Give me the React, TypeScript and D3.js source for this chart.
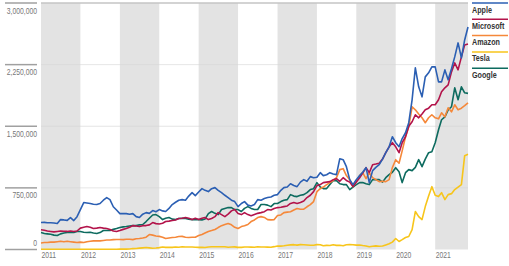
import React, { useEffect, useRef } from 'react';
import * as d3 from 'd3';

// market cap, in thousands of the axis unit (axis shows value * 1000)
const companies = ['Apple', 'Microsoft', 'Amazon', 'Tesla', 'Google'];
const colors = ['#2b5fb3', '#b3134a', '#f5883a', '#f7c51b', '#0d6b5f'];

const apple = [
    328, 330, 326, 325, 322, 316, 364, 360, 355, 389, 352, 400,
    486, 571, 565, 559, 550, 547, 560, 600, 632, 607, 520, 480,
    437, 437, 437, 430, 437, 400, 389, 430, 449, 440, 474, 460,
    486, 470, 462, 500, 547, 575, 600, 607, 600, 650, 692, 656,
    700, 741, 720, 705, 740, 753, 720, 692, 660, 632, 600, 583,
    522, 560, 583, 540, 530, 547, 607, 600, 620, 632, 640, 660,
    668, 720, 753, 760, 800, 780, 765, 820, 850, 830, 887, 874,
    880, 935, 899, 910, 935, 920, 911, 1105, 1093, 1008, 850, 790,
    850, 899, 940, 996, 814, 960, 1000, 1032, 1100, 1178, 1250, 1372,
    1300, 1251, 1350, 1421, 1543, 1822, 2210, 1980, 1858, 2101, 2150, 2223,
    2223, 2040, 2040, 2186, 2065, 2200, 2344, 2514, 2332, 2550, 2708
];
const microsoft = [
    240, 235, 225, 220, 215, 220, 225, 222, 220, 225, 219, 225,
    260, 270, 279, 270, 255, 260, 267, 260, 255, 243, 225, 219,
    231, 245, 255, 270, 291, 285, 279, 290, 291, 300, 328, 315,
    310, 320, 340, 345, 352, 360, 377, 380, 389, 380, 364, 380,
    364, 380, 389, 364, 377, 400, 449, 425, 400, 430, 470, 486,
    437, 425, 449, 425, 410, 425, 440, 449, 460, 486, 480, 500,
    510, 515, 522, 530, 560, 571, 560, 571, 590, 632, 660, 704,
    777, 790, 814, 820, 826, 850, 862, 830, 874, 840, 820, 765,
    820, 874, 930, 996, 935, 1032, 1040, 1050, 1100, 1178, 1250, 1300,
    1250, 1178, 1300, 1372, 1500, 1555, 1640, 1603, 1650, 1700, 1720, 1761,
    1761, 1822, 1919, 1968, 2004, 2162, 2271, 2186, 2344, 2490, 2502
];
const amazon = [
    80, 85, 85, 90, 90, 95, 100, 95, 100, 95, 90, 85,
    90, 85, 95, 100, 105, 105, 105, 110, 115, 115, 120, 121,
    121, 120, 125, 125, 120, 130, 134, 140, 150, 182, 175, 165,
    160, 150, 134, 140, 146, 150, 158, 160, 150, 146, 150, 150,
    170, 182, 200, 219, 230, 243, 267, 290, 304, 316, 300, 270,
    255, 279, 290, 304, 340, 360, 389, 400, 390, 364, 360, 364,
    413, 420, 449, 455, 460, 480, 498, 490, 490, 520, 547, 583,
    704, 740, 760, 790, 814, 840, 874, 972, 984, 900, 850, 765,
    826, 900, 935, 862, 935, 874, 850, 826, 830, 826, 850, 996,
    1093, 1050, 1200, 1372, 1494, 1737, 1700, 1650, 1603, 1543, 1603, 1640,
    1603, 1590, 1664, 1615, 1725, 1676, 1761, 1700, 1720, 1750, 1785
];
const tesla = [
    2.5, 2.4, 2.3, 2.8, 3.1, 3.0, 2.9, 2.5, 2.5, 3.1, 3.5, 3.0,
    3.0, 3.6, 3.9, 3.5, 3.1, 3.3, 2.9, 3.0, 3.2, 3.2, 3.5, 3.7,
    4.1, 4.5, 4.6, 6.0, 11.2, 12.3, 16.3, 20.1, 23.8, 19.7, 15.5, 18.4,
    22.6, 30.4, 25.6, 25.3, 25.6, 29.7, 28.0, 33.6, 30.9, 30.3, 30.1, 27.9,
    25.7, 25.6, 23.8, 30.5, 32.6, 34.3, 34.1, 32.7, 32.6, 27.4, 30.4, 31.9,
    25.7, 25.7, 30.6, 31.0, 29.3, 28.1, 33.9, 30.1, 30.3, 29.3, 28.3, 34.5,
    41.9, 40.9, 45.3, 51.2, 56.7, 58.8, 53.3, 59.5, 57.3, 55.0, 51.9, 52.6,
    59.1, 57.5, 45.2, 50.3, 48.5, 58.5, 50.6, 51.7, 45.6, 58.4, 60.3, 57.7,
    53, 55, 48, 43, 34, 40, 44, 40, 43, 56, 70, 90,
    134, 97, 120, 146, 158, 243, 462, 400, 364, 522, 650, 765,
    660, 644, 692, 607, 668, 680, 729, 760, 790, 1142, 1160
];
const google = [
    206, 195, 190, 185, 175, 170, 190, 200, 206, 210, 206, 219,
    219, 210, 206, 210, 200, 195, 206, 231, 231, 231, 245, 255,
    267, 275, 279, 285, 291, 291, 300, 304, 340, 380, 420, 425,
    400, 364, 380, 389, 370, 364, 377, 380, 377, 370, 364, 364,
    364, 360, 370, 437, 462, 440, 425, 486, 500, 510, 510, 486,
    486, 462, 500, 522, 500, 486, 486, 547, 547, 540, 522, 559,
    560, 583, 600, 607, 668, 650, 644, 660, 668, 692, 729, 740,
    814, 760, 741, 741, 790, 840, 838, 800, 790, 790, 729, 760,
    790, 814, 814, 800, 790, 850, 850, 850, 820, 874, 911, 940,
    996, 947, 814, 935, 972, 960, 1000, 1093, 1008, 1100, 1178, 1190,
    1300, 1457, 1579, 1615, 1700, 1737, 1968, 1822, 1980, 1907, 1900
];

const yTicks = [0, 750, 1500, 2250, 3000];
const years = [2011, 2012, 2013, 2014, 2015, 2016, 2017, 2018, 2019, 2020, 2021];

const series = [apple, microsoft, amazon, tesla, google];
const drawOrder = [4, 3, 2, 1, 0];

const App = () => {
    const svgRef = useRef(null);
    const width = 509;
    const height = 266;
    const margin = { top: 3, right: 41, bottom: 16.5, left: 41 };
    const font = "'Liberation Sans', Arial, sans-serif";
    const squeeze = 0.8; // condensed look

    useEffect(() => {
        const svg = d3.select(svgRef.current);
        svg.selectAll('*').remove();

        const months = d3.timeMonth.range(new Date(2011, 0, 1), new Date(2021, 11, 1));
        const x0 = margin.left;
        const x1 = width - margin.right;
        const yBottom = height - margin.bottom;

        const x = d3.scaleTime()
            .domain([months[0], months[months.length - 1]])
            .range([x0, x1]);
        const y = d3.scaleLinear()
            .domain([0, 3000])
            .range([yBottom, margin.top]);

        const label = (tx, ty, str, anchor, size, weight, fill) => {
            svg.append('text')
                .attr('transform', `translate(${tx},${ty}) scale(${squeeze},1)`)
                .attr('text-anchor', anchor)
                .attr('font-family', font)
                .attr('font-size', size)
                .attr('font-weight', weight)
                .attr('fill', fill)
                .text(str);
        };

        // alternating year bands
        years.forEach((yr, i) => {
            if (i % 2 !== 0) return;
            const a = x(new Date(yr, 0, 1));
            const b = Math.min(x(new Date(yr + 1, 0, 1)), x1);
            svg.append('rect')
                .attr('x', a).attr('y', margin.top)
                .attr('width', b - a).attr('height', yBottom - margin.top)
                .attr('fill', '#e3e3e3');
        });

        // gridlines
        yTicks.filter(t => t > 0).forEach(t => {
            svg.append('line')
                .attr('x1', x0).attr('x2', x1)
                .attr('y1', y(t)).attr('y2', y(t))
                .attr('stroke', t === 3000 ? '#c4c4c4' : '#d4d4d4')
                .attr('stroke-opacity', t === 3000 ? 1 : 0.6)
                .attr('stroke-width', t === 3000 ? 1.5 : 1);
        });

        // y labels with short rules
        yTicks.forEach(t => {
            svg.append('line')
                .attr('x1', 5).attr('x2', 37)
                .attr('y1', y(t)).attr('y2', y(t))
                .attr('stroke', '#a0a0a0')
                .attr('stroke-width', 1.5);
            label(37, t === 0 ? y(t) - 4 : y(t) + 10.5, d3.format(',')(t * 1000), 'end', 8.5, 'normal', '#777');
        });

        // x year labels
        years.forEach(yr => {
            label(x(new Date(yr, 0, 1)) + 0.5, 258, yr, 'start', 8.5, 'normal', '#777');
        });

        const line = d3.line()
            .x((d, i) => x(months[i]))
            .y(d => y(d));

        drawOrder.forEach(k => {
            svg.append('path')
                .datum(series[k])
                .attr('fill', 'none')
                .attr('stroke', colors[k])
                .attr('stroke-width', 1.6)
                .attr('stroke-linejoin', 'round')
                .attr('d', line);
        });

        // legend
        companies.forEach((c, i) => {
            const ly = 3 + i * 16.3;
            svg.append('line')
                .attr('x1', 472).attr('x2', 508)
                .attr('y1', ly).attr('y2', ly)
                .attr('stroke', colors[i])
                .attr('stroke-width', 1.5);
            label(472, ly + 9.5, c, 'start', 9, 'bold', '#333');
        });
    }, []);

    return (
        <svg
            ref={svgRef}
            width={width}
            height={height}
            style={{ position: 'absolute', left: 0, top: 0, background: '#fff' }}
        ></svg>
    );
};

export default App;
